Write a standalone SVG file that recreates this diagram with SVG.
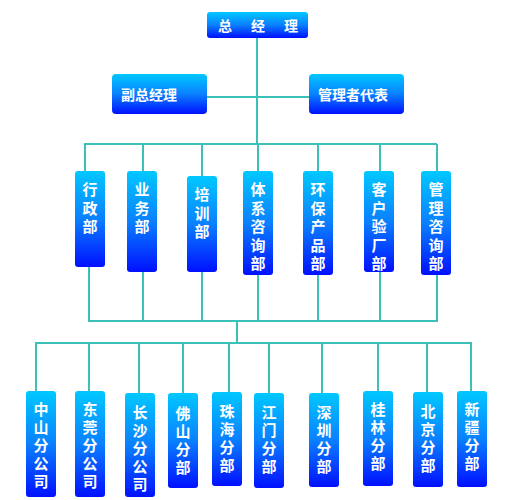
<svg xmlns="http://www.w3.org/2000/svg" width="525" height="500" viewBox="0 0 525 500">
<defs>
<linearGradient id="g" x1="0" y1="0" x2="0" y2="1">
<stop offset="0" stop-color="#00c8ff"/>
<stop offset="0.5" stop-color="#0a80ff"/>
<stop offset="1" stop-color="#0010ff"/>
</linearGradient>
<style>
rect.b{fill:url(#g);}
text{font-family:"Liberation Sans","Noto Sans CJK SC",sans-serif;font-weight:bold;fill:#ffffff;text-anchor:middle;}
.h{font-size:14px;}
.v{font-size:15px;}
#connectors line{stroke:#3cc0b8;stroke-width:2;fill:none;}
</style>
</defs>
<rect width="525" height="500" fill="#ffffff"/>
<g id="connectors">
<line x1="257" y1="38" x2="257" y2="144"/>
<line x1="207" y1="97" x2="309" y2="97"/>
<line x1="84" y1="144" x2="437" y2="144"/>
<line x1="85" y1="144" x2="85" y2="171"/>
<line x1="143" y1="144" x2="143" y2="171"/>
<line x1="202" y1="144" x2="202" y2="176"/>
<line x1="258" y1="144" x2="258" y2="171"/>
<line x1="318" y1="144" x2="318" y2="171"/>
<line x1="380" y1="144" x2="380" y2="171"/>
<line x1="437" y1="144" x2="437" y2="171"/>
<line x1="89" y1="267" x2="89" y2="321"/>
<line x1="143" y1="272" x2="143" y2="321"/>
<line x1="202" y1="272" x2="202" y2="321"/>
<line x1="258" y1="275" x2="258" y2="321"/>
<line x1="318" y1="275" x2="318" y2="321"/>
<line x1="380" y1="272" x2="380" y2="321"/>
<line x1="437" y1="275" x2="437" y2="321"/>
<line x1="88" y1="321" x2="438" y2="321"/>
<line x1="237" y1="321" x2="237" y2="343"/>
<line x1="35" y1="343" x2="472" y2="343"/>
<line x1="36" y1="343" x2="36" y2="391"/>
<line x1="89" y1="343" x2="89" y2="391"/>
<line x1="139" y1="343" x2="139" y2="393"/>
<line x1="183" y1="343" x2="183" y2="393"/>
<line x1="229" y1="343" x2="229" y2="392"/>
<line x1="269" y1="343" x2="269" y2="393"/>
<line x1="322" y1="343" x2="322" y2="393"/>
<line x1="378" y1="343" x2="378" y2="391"/>
<line x1="427" y1="343" x2="427" y2="392"/>
<line x1="471" y1="343" x2="471" y2="391"/>
</g>
<g id="n-gm"><rect class="b" x="207" y="12" width="101" height="26" rx="3"/><text class="h" x="225" y="31">总</text><text class="h" x="258" y="31">经</text><text class="h" x="291" y="31">理</text></g>
<g id="n-dgm"><rect class="b" x="112" y="74" width="95" height="40" rx="4"/><text class="h" x="149" y="100">副总经理</text></g>
<g id="n-mr"><rect class="b" x="309" y="74" width="95" height="40" rx="4"/><text class="h" x="353" y="100">管理者代表</text></g>

<g id="n-xz"><rect class="b" x="75" y="171" width="30" height="96" rx="3"/><text class="v"><tspan x="90" y="195">行</tspan><tspan x="90" dy="18.5">政</tspan><tspan x="90" dy="18.5">部</tspan></text></g>
<g id="n-yw"><rect class="b" x="127" y="171" width="30" height="101" rx="3"/><text class="v"><tspan x="142" y="195">业</tspan><tspan x="142" dy="18.5">务</tspan><tspan x="142" dy="18.5">部</tspan></text></g>
<g id="n-px"><rect class="b" x="187" y="176" width="30" height="96" rx="3"/><text class="v"><tspan x="202" y="200">培</tspan><tspan x="202" dy="18.5">训</tspan><tspan x="202" dy="18.5">部</tspan></text></g>
<g id="n-tx"><rect class="b" x="243" y="171" width="30" height="104" rx="3"/><text class="v"><tspan x="258" y="195">体</tspan><tspan x="258" dy="18.5">系</tspan><tspan x="258" dy="18.5">咨</tspan><tspan x="258" dy="18.5">询</tspan><tspan x="258" dy="18.5">部</tspan></text></g>
<g id="n-hb"><rect class="b" x="303" y="171" width="30" height="104" rx="3"/><text class="v"><tspan x="318" y="195">环</tspan><tspan x="318" dy="18.5">保</tspan><tspan x="318" dy="18.5">产</tspan><tspan x="318" dy="18.5">品</tspan><tspan x="318" dy="18.5">部</tspan></text></g>
<g id="n-kh"><rect class="b" x="364" y="171" width="30" height="101" rx="3"/><text class="v"><tspan x="379" y="195">客</tspan><tspan x="379" dy="18.5">户</tspan><tspan x="379" dy="18.5">验</tspan><tspan x="379" dy="18.5">厂</tspan><tspan x="379" dy="18.5">部</tspan></text></g>
<g id="n-gl"><rect class="b" x="421" y="171" width="30" height="104" rx="3"/><text class="v"><tspan x="436" y="195">管</tspan><tspan x="436" dy="18.5">理</tspan><tspan x="436" dy="18.5">咨</tspan><tspan x="436" dy="18.5">询</tspan><tspan x="436" dy="18.5">部</tspan></text></g>

<g id="n-zs"><rect class="b" x="26" y="391" width="30" height="106" rx="3"/><text class="v"><tspan x="41" y="415">中</tspan><tspan x="41" dy="18">山</tspan><tspan x="41" dy="18">分</tspan><tspan x="41" dy="18">公</tspan><tspan x="41" dy="18">司</tspan></text></g>
<g id="n-dg"><rect class="b" x="75" y="391" width="30" height="106" rx="3"/><text class="v"><tspan x="90" y="415">东</tspan><tspan x="90" dy="18">莞</tspan><tspan x="90" dy="18">分</tspan><tspan x="90" dy="18">公</tspan><tspan x="90" dy="18">司</tspan></text></g>
<g id="n-cs"><rect class="b" x="125" y="393" width="30" height="104" rx="3"/><text class="v"><tspan x="140" y="418">长</tspan><tspan x="140" dy="18">沙</tspan><tspan x="140" dy="18">分</tspan><tspan x="140" dy="18">公</tspan><tspan x="140" dy="18">司</tspan></text></g>
<g id="n-fs"><rect class="b" x="168" y="393" width="30" height="95" rx="3"/><text class="v"><tspan x="183" y="419">佛</tspan><tspan x="183" dy="18">山</tspan><tspan x="183" dy="18">分</tspan><tspan x="183" dy="18">部</tspan></text></g>
<g id="n-zh"><rect class="b" x="212" y="392" width="30" height="94" rx="3"/><text class="v"><tspan x="227" y="417">珠</tspan><tspan x="227" dy="18">海</tspan><tspan x="227" dy="18">分</tspan><tspan x="227" dy="18">部</tspan></text></g>
<g id="n-jm"><rect class="b" x="254" y="393" width="30" height="95" rx="3"/><text class="v"><tspan x="269" y="418">江</tspan><tspan x="269" dy="18">门</tspan><tspan x="269" dy="18">分</tspan><tspan x="269" dy="18">部</tspan></text></g>
<g id="n-sz"><rect class="b" x="309" y="393" width="30" height="94" rx="3"/><text class="v"><tspan x="324" y="418">深</tspan><tspan x="324" dy="18">圳</tspan><tspan x="324" dy="18">分</tspan><tspan x="324" dy="18">部</tspan></text></g>
<g id="n-gl2"><rect class="b" x="363" y="391" width="30" height="95" rx="3"/><text class="v"><tspan x="378" y="415">桂</tspan><tspan x="378" dy="18">林</tspan><tspan x="378" dy="18">分</tspan><tspan x="378" dy="18">部</tspan></text></g>
<g id="n-bj"><rect class="b" x="413" y="392" width="30" height="95" rx="3"/><text class="v"><tspan x="428" y="417">北</tspan><tspan x="428" dy="18">京</tspan><tspan x="428" dy="18">分</tspan><tspan x="428" dy="18">部</tspan></text></g>
<g id="n-xj"><rect class="b" x="457" y="391" width="30" height="96" rx="3"/><text class="v"><tspan x="472" y="415">新</tspan><tspan x="472" dy="18">疆</tspan><tspan x="472" dy="18">分</tspan><tspan x="472" dy="18">部</tspan></text></g>
</svg>
